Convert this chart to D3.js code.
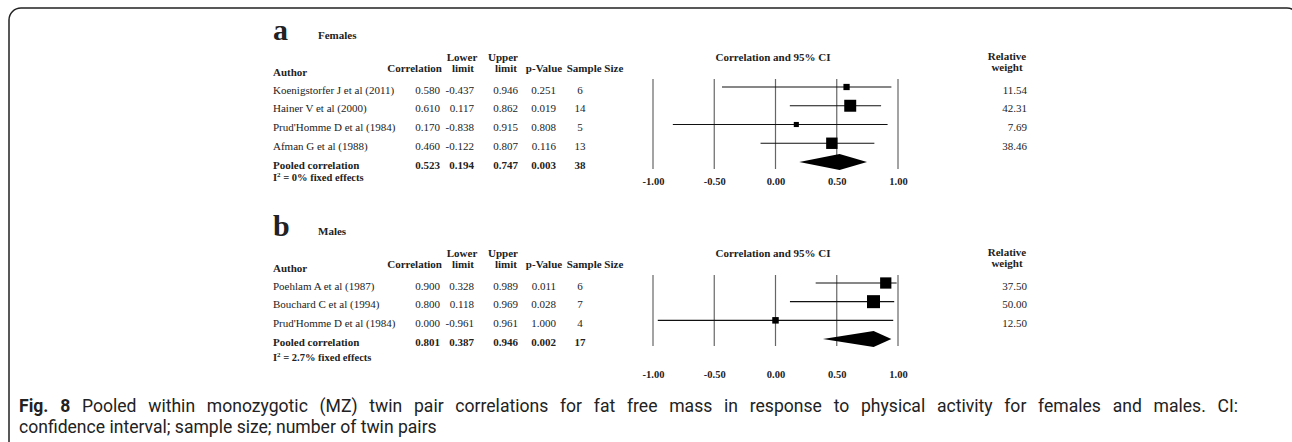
<!DOCTYPE html>
<html><head><meta charset="utf-8">
<script src="https://cdn.jsdelivr.net/npm/d3@7"></script>
<style>
body{margin:0;background:#fff;}
svg{display:block;}
.serif{font-family:"Liberation Serif","Times New Roman",serif;fill:#222;}
</style></head>
<body><svg id="chart" width="1292" height="442"></svg>
<script>
// ---------- data ----------
const femAuthors = ["Koenigstorfer J et al (2011)", "Hainer V et al (2000)", "Prud'Homme D et al (1984)", "Afman G et al (1988)"];
const femCorr   = [0.580, 0.610, 0.170, 0.460];
const femLower  = [-0.437, 0.117, -0.838, -0.122];
const femUpper  = [0.946, 0.862, 0.915, 0.807];
const femP      = [0.251, 0.019, 0.808, 0.116];
const femN      = [6, 14, 5, 13];
const femWeight = [11.54, 42.31, 7.69, 38.46];
const femPooled = [0.523, 0.194, 0.747, 0.003, 38];
const femI2     = "0%";

const maleAuthors = ["Poehlam A et al (1987)", "Bouchard C et al (1994)", "Prud'Homme D et al (1984)"];
const maleCorr   = [0.900, 0.800, 0.000];
const maleLower  = [0.328, 0.118, -0.961];
const maleUpper  = [0.989, 0.969, 0.961];
const maleP      = [0.011, 0.028, 1.000];
const maleN      = [6, 7, 4];
const maleWeight = [37.50, 50.00, 12.50];
const malePooled = [0.801, 0.387, 0.946, 0.002, 17];
const maleI2     = "2.7%";

const tickValues = [-1, -0.5, 0, 0.5, 1];
const tickLabels = ["-1.00", "-0.50", "0.00", "0.50", "1.00"];

const captionBold = "Fig. 8";
const captionLine1 = " Pooled within monozygotic (MZ) twin pair correlations for fat free mass in response to physical activity for females and males. CI:";
const captionLine2 = "confidence interval; sample size; number of twin pairs";

// ---------- setup ----------
const svg = d3.select("#chart");
const loc = d3.formatLocale({decimal:".", thousands:",", grouping:[3], currency:["$",""], minus:"-"});
const f3 = loc.format(".3f"), f2 = loc.format(".2f");

const x = d3.scaleLinear().domain([-1, 1]).range([653, 898]);
const sizeScale = d3.scaleSqrt().domain([0, 50]).range([0, 13]);

// border
svg.append("rect").attr("x", 9).attr("y", 8).attr("width", 1290).attr("height", 470)
  .attr("rx", 12).attr("fill", "none").attr("stroke", "#222").attr("stroke-width", 1.5);

function drawPanel(p) {
  const g = svg.append("g").attr("class", "serif");
  const dy = p.dy;
  g.append("text").attr("x", 273).attr("y", dy + 40).attr("font-size", 30).attr("font-weight", "bold").text(p.letter);
  g.append("text").attr("x", 318).attr("y", dy + 39).attr("font-size", 11).attr("font-weight", "bold").text(p.title);

  const hdr = g.append("g").attr("font-size", 11).attr("font-weight", "bold");
  hdr.append("text").attr("x", 273).attr("y", dy + 76).text("Author");
  hdr.append("text").attr("x", 442).attr("y", dy + 72).attr("text-anchor", "end").text("Correlation");
  hdr.append("text").attr("x", 462).attr("y", dy + 61).attr("text-anchor", "middle").text("Lower");
  hdr.append("text").attr("x", 463).attr("y", dy + 72).attr("text-anchor", "middle").text("limit");
  hdr.append("text").attr("x", 503).attr("y", dy + 61).attr("text-anchor", "middle").text("Upper");
  hdr.append("text").attr("x", 506).attr("y", dy + 72).attr("text-anchor", "middle").text("limit");
  hdr.append("text").attr("x", 544).attr("y", dy + 72).attr("text-anchor", "middle").text("p-Value");
  hdr.append("text").attr("x", 595).attr("y", dy + 72).attr("text-anchor", "middle").text("Sample Size");
  hdr.append("text").attr("x", 773).attr("y", dy + 61).attr("text-anchor", "middle").text("Correlation and 95% CI");
  hdr.append("text").attr("x", 1007).attr("y", dy + 60).attr("text-anchor", "middle").text("Relative");
  hdr.append("text").attr("x", 1007).attr("y", dy + 71).attr("text-anchor", "middle").text("weight");

  const keys = p.authors.concat(["__pooled"]);
  const y = d3.scalePoint().domain(keys).range(p.rowRange);
  const rows = p.authors.map((a, i) => ({author: a, r: p.corr[i], lo: p.lower[i], hi: p.upper[i], pv: p.p[i], n: p.n[i], w: p.weight[i]}));

  const rt = g.append("g").attr("font-size", 11);
  rows.forEach(d => {
    const yy = y(d.author) + 6.5;
    rt.append("text").attr("x", 273).attr("y", yy).text(d.author);
    rt.append("text").attr("x", 440).attr("y", yy).attr("text-anchor", "end").text(f3(d.r));
    rt.append("text").attr("x", 474).attr("y", yy).attr("text-anchor", "end").text(f3(d.lo));
    rt.append("text").attr("x", 518).attr("y", yy).attr("text-anchor", "end").text(f3(d.hi));
    rt.append("text").attr("x", 556).attr("y", yy).attr("text-anchor", "end").text(f3(d.pv));
    rt.append("text").attr("x", 580).attr("y", yy).attr("text-anchor", "middle").text(d.n);
    rt.append("text").attr("x", 1027).attr("y", yy).attr("text-anchor", "end").text(f2(d.w));
  });
  const pt = g.append("g").attr("font-size", 11).attr("font-weight", "bold");
  const py = y("__pooled") + 6.5;
  pt.append("text").attr("x", 273).attr("y", py).text("Pooled correlation");
  pt.append("text").attr("x", 440).attr("y", py).attr("text-anchor", "end").text(f3(p.pooled[0]));
  pt.append("text").attr("x", 474).attr("y", py).attr("text-anchor", "end").text(f3(p.pooled[1]));
  pt.append("text").attr("x", 518).attr("y", py).attr("text-anchor", "end").text(f3(p.pooled[2]));
  pt.append("text").attr("x", 556).attr("y", py).attr("text-anchor", "end").text(f3(p.pooled[3]));
  pt.append("text").attr("x", 580).attr("y", py).attr("text-anchor", "middle").text(p.pooled[4]);
  const i2 = pt.append("text").attr("x", 273).attr("y", p.i2y).attr("font-size", 10.5);
  i2.append("tspan").text("I");
  i2.append("tspan").attr("dy", -4).attr("font-size", 7).text("2");
  i2.append("tspan").attr("dy", 4).text(" = " + p.i2 + " fixed effects");

  const gl = svg.append("g");
  gl.selectAll("line").data(tickValues).join("line")
    .attr("x1", d => x(d)).attr("x2", d => x(d))
    .attr("y1", p.rowRange[0] - 8).attr("y2", p.rowRange[1] + 7)
    .attr("stroke", "#666").attr("stroke-width", 1.2);

  const axis = d3.axisBottom(x).tickValues(tickValues).tickFormat((d, i) => tickLabels[i]).tickSize(0).tickPadding(0);
  const ax = svg.append("g").attr("transform", `translate(0,${p.tickY - 8})`).call(axis);
  ax.select(".domain").remove();
  ax.selectAll("text").attr("font-family", "Liberation Serif, serif").attr("font-size", 10.5)
    .attr("font-weight", "bold").attr("fill", "#222");

  const marks = svg.append("g");
  marks.selectAll("line.ci").data(rows).join("line").attr("class", "ci")
    .attr("x1", d => x(d.lo)).attr("x2", d => x(d.hi))
    .attr("y1", d => y(d.author)).attr("y2", d => y(d.author))
    .attr("stroke", "#111").attr("stroke-width", 1.2);
  marks.selectAll("rect").data(rows).join("rect")
    .attr("x", d => x(d.r) - sizeScale(d.w) / 2)
    .attr("y", d => y(d.author) - sizeScale(d.w) / 2)
    .attr("width", d => sizeScale(d.w)).attr("height", d => sizeScale(d.w))
    .attr("fill", "#000");
  const yc = y("__pooled");
  marks.append("path")
    .attr("d", `M${x(p.pooled[1])},${yc} L${x(p.pooled[0])},${yc - 8} L${x(p.pooled[2])},${yc} L${x(p.pooled[0])},${yc + 8} Z`)
    .attr("fill", "#000");
}

drawPanel({dy: 0, letter: "a", title: "Females", authors: femAuthors, corr: femCorr, lower: femLower, upper: femUpper,
  p: femP, n: femN, weight: femWeight, pooled: femPooled, i2: femI2, rowRange: [87, 162], i2y: 181, tickY: 186});
drawPanel({dy: 196, letter: "b", title: "Males", authors: maleAuthors, corr: maleCorr, lower: maleLower, upper: maleUpper,
  p: maleP, n: maleN, weight: maleWeight, pooled: malePooled, i2: maleI2, rowRange: [283, 339], i2y: 361, tickY: 379});

// caption (justified paragraph: line 1 stretched, last line natural)
const cap = svg.append("g").attr("font-family", "Roboto, sans-serif").attr("fill", "#222");
const l2 = cap.append("text").attr("x", 19).attr("y", 433).attr("font-size", 16).text(captionLine2);
const fs = 16 * 418 / l2.node().getComputedTextLength();
l2.attr("font-size", fs);
const l1 = cap.append("text").attr("x", 19).attr("y", 412).attr("font-size", fs);
l1.append("tspan").attr("font-weight", "bold").text(captionBold);
l1.append("tspan").text(captionLine1);
const w1 = l1.node().getComputedTextLength();
const nSpaces = (captionBold + captionLine1).split(" ").length - 1;
l1.attr("word-spacing", Math.max(0, (1219 - w1) / nSpaces));
</script></body></html>
